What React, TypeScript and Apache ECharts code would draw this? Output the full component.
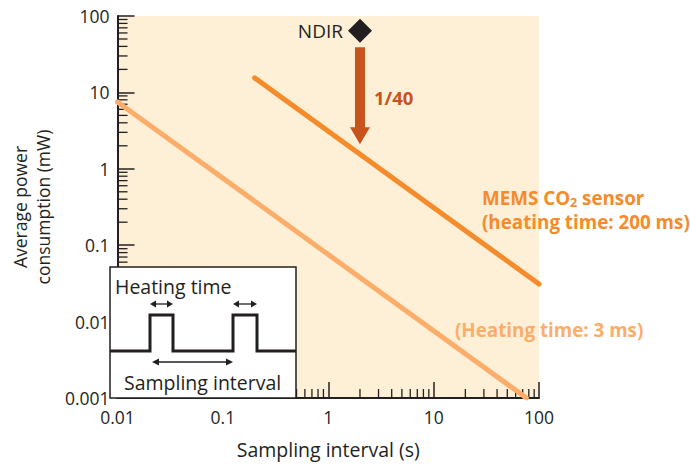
import React, { useEffect, useRef } from "react";
import * as echarts from "echarts";

// ---- data ----
const xTickLabels = ["0.01", "0.1", "1", "10", "100"];
const yTickLabels = ["0.001", "0.01", "0.1", "1", "10", "100"];
const xRange = [0.01, 100];
const yRange = [0.001, 100];
// MEMS CO2 sensor, heating time 200 ms: [sampling interval (s), power (mW)]
const mems200 = [
  [0.2, 15.5],
  [100, 0.031],
];
// heating time 3 ms
const mems3 = [
  [0.01, 7.5],
  [76, 0.001],
];
// NDIR reference point
const ndir = [[2, 64]];
// 1/40 reduction arrow: [x, from, to]
const reductionArrow = [[2, 39, 2.1]];
const minorMultipliers = [2, 3, 4, 5, 6, 7, 8, 9];
const xDecades = [0.01, 0.1, 1, 10];
const yDecades = [0.001, 0.01, 0.1, 1, 10];

const INK = "#231f20";
const C200 = "#f58b2a";
const C3 = "#fbad69";
const CARROW = "#c8531d";
const BG = "#fdf0d6";
const FONT = "'Open Sans', 'Noto Sans', sans-serif";

const xMinor = xDecades.flatMap((d) => minorMultipliers.map((m) => +(d * m).toPrecision(3)));
const yMinor = yDecades.flatMap((d) => minorMultipliers.map((m) => +(d * m).toPrecision(3)));

function fmt(v: number, labels: string[]) {
  const s = String(+Number(v).toPrecision(3));
  return labels.includes(s) ? s : "";
}

function doubleArrow(x1: number, x2: number, y: number, head: number, hw: number, lw: number) {
  return [
    { type: "line", z: 101, shape: { x1: x1 + head - 1, y1: y, x2: x2 - head + 1, y2: y }, style: { stroke: INK, lineWidth: lw } },
    { type: "polygon", z: 101, shape: { points: [[x1, y], [x1 + head, y - hw], [x1 + head, y + hw]] }, style: { fill: INK } },
    { type: "polygon", z: 101, shape: { points: [[x2, y], [x2 - head, y - hw], [x2 - head, y + hw]] }, style: { fill: INK } },
  ];
}

export default function App() {
  const ref = useRef<HTMLDivElement>(null);
  useEffect(() => {
    if (!ref.current) return;
    const chart = echarts.init(ref.current, null, { renderer: "svg" });
    const insetX = 110, insetY = 267, insetW = 186, insetH = 131;
    const baseY = 351, highY = 315;
    const option: any = {
      animation: false,
      backgroundColor: "#ffffff",
      textStyle: { fontFamily: FONT },
      grid: { left: 110, top: 16, right: 151, bottom: 68, show: true, backgroundColor: BG, borderWidth: 0 },
      xAxis: {
        type: "log",
        logBase: 10,
        min: xRange[0],
        max: xRange[1],
        name: "Sampling interval (s)",
        nameLocation: "middle",
        nameGap: 41,
        nameTextStyle: { fontSize: 19.5, color: INK, fontFamily: FONT },
        axisLine: { show: true, lineStyle: { color: INK, width: 2 } },
        axisTick: { show: true, inside: true, length: 16, lineStyle: { color: INK, width: 1.5 } },
        minorTick: { show: false },
        splitLine: { show: false },
        axisLabel: {
          fontSize: 17.5,
          color: INK,
          margin: 10,
          fontFamily: FONT,
          formatter: (v: number) => fmt(v, xTickLabels),
        },
      },
      yAxis: {
        type: "log",
        logBase: 10,
        min: yRange[0],
        max: yRange[1],
        name: "Average power\nconsumption (mW)",
        nameLocation: "middle",
        nameGap: 52,
        nameTextStyle: { fontSize: 17.5, color: INK, lineHeight: 23, fontFamily: FONT },
        axisLine: { show: true, lineStyle: { color: INK, width: 2 } },
        axisTick: { show: true, inside: true, length: 17, lineStyle: { color: INK, width: 1.5 } },
        minorTick: { show: false },
        splitLine: { show: false },
        axisLabel: {
          fontSize: 17.5,
          color: INK,
          margin: 8,
          fontFamily: FONT,
          formatter: (v: number) => fmt(v, yTickLabels),
        },
      },
      series: [
        {
          type: "custom",
          name: "xMinor",
          silent: true,
          clip: false,
          z: 3,
          data: xMinor.map((v) => [v, yRange[0]]),
          renderItem: (_p: any, api: any) => {
            const p = api.coord([api.value(0), api.value(1)]);
            return { type: "line", shape: { x1: p[0], y1: p[1], x2: p[0], y2: p[1] - 9 }, style: { stroke: INK, lineWidth: 1.3 } };
          },
        },
        {
          type: "custom",
          name: "yMinor",
          silent: true,
          clip: false,
          z: 3,
          data: yMinor.map((v) => [xRange[0], v]),
          renderItem: (_p: any, api: any) => {
            const p = api.coord([api.value(0), api.value(1)]);
            return { type: "line", shape: { x1: p[0], y1: p[1], x2: p[0] + 10, y2: p[1] }, style: { stroke: INK, lineWidth: 1.3 } };
          },
        },
        {
          type: "line",
          name: "heating 3 ms",
          data: mems3,
          symbol: "none",
          z: 4,
          lineStyle: { color: C3, width: 5, cap: "round" },
        },
        {
          type: "line",
          name: "heating 200 ms",
          data: mems200,
          symbol: "none",
          clip: false,
          z: 4,
          lineStyle: { color: C200, width: 5, cap: "round" },
        },
        {
          type: "custom",
          name: "1/40",
          silent: true,
          clip: false,
          z: 5,
          data: reductionArrow,
          renderItem: (_p: any, api: any) => {
            const a = api.coord([api.value(0), api.value(1)]);
            const b = api.coord([api.value(0), api.value(2)]);
            const x = a[0];
            const sw = 5, hw = 10, hh = 17;
            return {
              type: "group",
              children: [
                {
                  type: "polygon",
                  shape: {
                    points: [
                      [x - sw, a[1]], [x + sw, a[1]], [x + sw, b[1] - hh], [x + hw, b[1] - hh],
                      [x, b[1]], [x - hw, b[1] - hh], [x - sw, b[1] - hh],
                    ],
                  },
                  style: { fill: CARROW },
                },
                {
                  type: "text",
                  x: x + 14,
                  y: (a[1] + b[1]) / 2 + 2,
                  style: { text: "1/40", fill: CARROW, fontSize: 18.5, fontWeight: "bold", fontFamily: FONT, verticalAlign: "middle", align: "left" },
                },
              ],
            };
          },
        },
        {
          type: "scatter",
          name: "NDIR",
          data: ndir,
          symbol: "diamond",
          symbolSize: 24,
          z: 6,
          itemStyle: { color: INK, opacity: 1 },
          label: { show: true, position: "left", distance: 5, formatter: "NDIR", fontSize: 19, color: INK, fontFamily: FONT },
        },
      ],
      graphic: [
        {
          type: "text",
          left: 482,
          top: 186,
          z: 100,
          style: {
            text: "MEMS CO{sub|2} sensor\n(heating time: 200 ms)",
            fill: C200,
            fontSize: 18.8,
            fontWeight: "bold",
            fontFamily: FONT,
            lineHeight: 24,
            rich: { sub: { fontSize: 12.5, fontWeight: "bold", fill: C200, fontFamily: FONT, padding: [8, 0, 0, 0], lineHeight: 24 } },
          },
        },
        {
          type: "text",
          left: 455,
          top: 320,
          z: 100,
          style: { text: "(Heating time: 3 ms)", fill: C3, fontSize: 18.8, fontWeight: "bold", fontFamily: FONT },
        },
        {
          type: "rect",
          z: 100,
          shape: { x: insetX, y: insetY, width: insetW, height: insetH },
          style: { fill: "#ffffff", stroke: INK, lineWidth: 1.5 },
        },
        {
          type: "polyline",
          z: 101,
          shape: {
            points: [
              [insetX, baseY], [150, baseY], [150, highY], [173, highY], [173, baseY],
              [233, baseY], [233, highY], [257, highY], [257, baseY], [insetX + insetW, baseY],
            ],
          },
          style: { stroke: INK, lineWidth: 3, fill: null },
        },
        ...doubleArrow(150, 173, 304, 6, 3.5, 1.3),
        ...doubleArrow(233, 257, 304, 6, 3.5, 1.3),
        ...doubleArrow(152, 233, 362, 7, 3.5, 1.3),
        {
          type: "text",
          z: 101,
          x: 115,
          y: 276,
          style: { text: "Heating time", fill: INK, fontSize: 19.5, fontFamily: FONT },
        },
        {
          type: "text",
          z: 101,
          x: 124,
          y: 372,
          style: { text: "Sampling interval", fill: INK, fontSize: 19.5, fontFamily: FONT },
        },
      ],
    };
    chart.setOption(option);
    return () => chart.dispose();
  }, []);
  return <div ref={ref} style={{ width: 690, height: 466, position: "absolute", left: 0, top: 0 }} />;
}
